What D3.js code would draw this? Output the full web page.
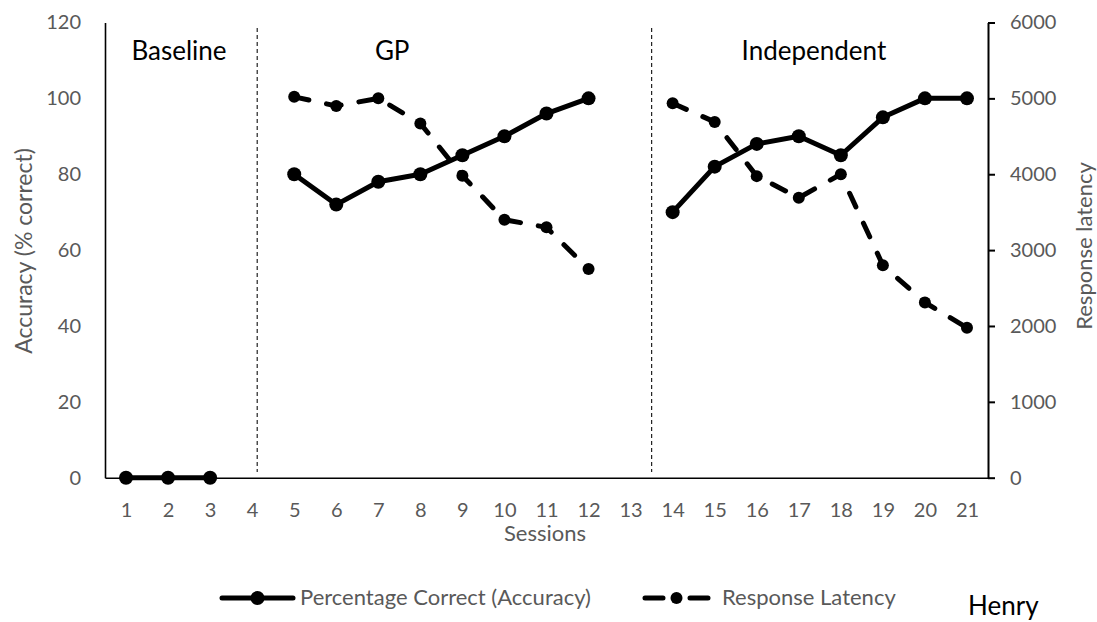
<!DOCTYPE html>
<html>
<head>
<meta charset="utf-8">
<script src="https://cdn.jsdelivr.net/npm/d3@7"></script>
<style>
  html, body { margin: 0; padding: 0; background: #fff; }
  #chart { width: 1097px; height: 622px; }
  text { font-family: Lato, "Open Sans", sans-serif; }
</style>
</head>
<body>
<div id="chart"></div>
<script>
"use strict";

// sessions on the x axis
const sessions = d3.range(1, 22);

// accuracy (% correct), left axis
const accuracySessions = [1, 2, 3, 5, 6, 7, 8, 9, 10, 11, 12, 14, 15, 16, 17, 18, 19, 20, 21];
const accuracy = [0, 0, 0, 80, 72, 78, 80, 85, 90, 96, 100, 70, 82, 88, 90, 85, 95, 100, 100];

// response latency, right axis (two separate runs)
const latencyGpSessions = [5, 6, 7, 8, 9, 10, 11, 12];
const latencyGp = [5020, 4900, 5000, 4670, 3980, 3400, 3300, 2750];
const latencyIndSessions = [14, 15, 16, 17, 18, 19, 20, 21];
const latencyInd = [4935, 4690, 3975, 3690, 4000, 2800, 2310, 1975];

const leftTicks = [0, 20, 40, 60, 80, 100, 120];
const rightTicks = [0, 1000, 2000, 3000, 4000, 5000, 6000];

// phase change lines and phase names
const phaseLines = [4.12, 13.5];
const phaseNames = ["Baseline", "GP", "Independent"];
const phaseCenters = [2.26, 7.33, 17.36];

const seriesNames = ["Percentage Correct (Accuracy)", "Response Latency"];

window.addEventListener("load", draw);

function draw() {
  const w = 1097;
  const h = 622;
  const plot = { left: 105, right: 988, top: 22.5, bottom: 477.7 };
  const grey = "#595959";

  const svg = d3
    .select("#chart")
    .append("svg")
    .attr("width", w)
    .attr("height", h);

  const x = d3
    .scaleLinear()
    .domain([0.5, 21.5])
    .range([plot.left, plot.right]);
  const yLeft = d3
    .scaleLinear()
    .domain([0, 120])
    .range([plot.bottom, plot.top]);
  const yRight = d3
    .scaleLinear()
    .domain([0, 6000])
    .range([plot.bottom, plot.top]);

  // phase change lines
  svg
    .selectAll("line.phase")
    .data(phaseLines)
    .enter()
    .append("line")
    .attr("class", "phase")
    .attr("x1", (d) => x(d))
    .attr("x2", (d) => x(d))
    .attr("y1", 28)
    .attr("y2", 472)
    .attr("stroke", "#222")
    .attr("stroke-width", 1.2)
    .attr("stroke-dasharray", "4,3");

  svg
    .selectAll("text.phase")
    .data(phaseNames)
    .enter()
    .append("text")
    .attr("class", "phase")
    .attr("x", (_, i) => x(phaseCenters[i]))
    .attr("y", 60)
    .attr("text-anchor", "middle")
    .attr("font-size", "26px")
    .attr("fill", "#000")
    .text((d) => d);

  // x axis
  const xAxis = svg
    .append("g")
    .attr("transform", `translate(0,${plot.bottom})`)
    .call(d3.axisBottom(x).tickValues(sessions).tickSize(0).tickPadding(0));
  xAxis.select(".domain").attr("stroke", "#000").attr("stroke-width", 1.6);
  xAxis
    .selectAll("text")
    .attr("font-size", "20px")
    .attr("font-family", "Lato, sans-serif")
    .attr("fill", grey)
    .attr("dy", null)
    .attr("y", 39);

  // left axis: line only, no tick marks
  const leftAxis = svg
    .append("g")
    .attr("transform", `translate(${plot.left},0)`)
    .call(d3.axisLeft(yLeft).tickValues(leftTicks).tickSize(0).tickPadding(24));
  leftAxis.select(".domain").attr("stroke", "#000").attr("stroke-width", 1.6);
  leftAxis
    .selectAll("text")
    .attr("font-size", "20px")
    .attr("font-family", "Lato, sans-serif")
    .attr("fill", grey);

  // right axis with outward ticks
  const rightAxis = svg
    .append("g")
    .attr("transform", `translate(${plot.right},0)`)
    .call(
      d3
        .axisRight(yRight)
        .tickValues(rightTicks)
        .tickFormat(d3.format("d"))
        .tickSize(7)
        .tickSizeOuter(0)
        .tickPadding(15)
    );
  rightAxis.select(".domain").attr("stroke", "#000").attr("stroke-width", 2);
  rightAxis.selectAll("line").attr("stroke", "#000").attr("stroke-width", 2);
  rightAxis
    .selectAll("text")
    .attr("font-size", "20px")
    .attr("font-family", "Lato, sans-serif")
    .attr("fill", grey);

  // axis titles
  svg
    .append("text")
    .attr("transform", "translate(23,251) rotate(-90)")
    .attr("text-anchor", "middle")
    .attr("dominant-baseline", "central")
    .attr("font-size", "23px")
    .attr("fill", grey)
    .text("Accuracy (% correct)");

  svg
    .append("text")
    .attr("transform", "translate(1083,246) rotate(-90)")
    .attr("text-anchor", "middle")
    .attr("dominant-baseline", "central")
    .attr("font-size", "22px")
    .attr("fill", grey)
    .text("Response latency");

  svg
    .append("text")
    .attr("x", 545)
    .attr("y", 541)
    .attr("text-anchor", "middle")
    .attr("font-size", "22px")
    .attr("fill", grey)
    .text("Sessions");

  // accuracy series, split into phases so the gaps stay open
  const accPts = accuracySessions.map((s, i) => ({ s: s, v: accuracy[i] }));
  const accRuns = [
    accPts.filter((d) => d.s < 4),
    accPts.filter((d) => d.s > 4 && d.s < 13.5),
    accPts.filter((d) => d.s > 13.5),
  ];
  const accLine = d3
    .line()
    .x((d) => x(d.s))
    .y((d) => yLeft(d.v));

  const latRuns = [
    latencyGpSessions.map((s, i) => ({ s: s, v: latencyGp[i] })),
    latencyIndSessions.map((s, i) => ({ s: s, v: latencyInd[i] })),
  ];
  const latLine = d3
    .line()
    .x((d) => x(d.s))
    .y((d) => yRight(d.v));

  // latency drawn first, accuracy on top
  svg
    .selectAll("path.lat")
    .data(latRuns)
    .enter()
    .append("path")
    .attr("class", "lat")
    .attr("d", latLine)
    .attr("fill", "none")
    .attr("stroke", "#000")
    .attr("stroke-width", 5)
    .attr("stroke-linecap", "round")
    .attr("stroke-dasharray", "15,18");

  svg
    .selectAll("circle.lat")
    .data(latRuns.flat())
    .enter()
    .append("circle")
    .attr("class", "lat")
    .attr("cx", (d) => x(d.s))
    .attr("cy", (d) => yRight(d.v))
    .attr("r", 6)
    .attr("fill", "#000");

  svg
    .selectAll("path.acc")
    .data(accRuns)
    .enter()
    .append("path")
    .attr("class", "acc")
    .attr("d", accLine)
    .attr("fill", "none")
    .attr("stroke", "#000")
    .attr("stroke-width", 5)
    .attr("stroke-linejoin", "round");

  svg
    .selectAll("circle.acc")
    .data(accPts)
    .enter()
    .append("circle")
    .attr("class", "acc")
    .attr("cx", (d) => x(d.s))
    .attr("cy", (d) => yLeft(d.v))
    .attr("r", 7)
    .attr("fill", "#000");

  drawLegend(svg, grey);

  svg
    .append("text")
    .attr("x", 968)
    .attr("y", 615)
    .attr("font-size", "26px")
    .attr("fill", "#000")
    .text("Henry");
}

function drawLegend(svg, grey) {
  const ly = 598;
  const items = [
    { x0: 222, x1: 293, dash: null, tx: 300 },
    { x0: 645, x1: 708, dash: "18,27,18", tx: 722 },
  ];
  const legend = svg.append("g").attr("id", "legend");

  legend
    .selectAll("line")
    .data(items)
    .enter()
    .append("line")
    .attr("x1", (d) => d.x0)
    .attr("x2", (d) => d.x1)
    .attr("y1", ly)
    .attr("y2", ly)
    .attr("stroke", "#000")
    .attr("stroke-width", 5)
    .attr("stroke-linecap", "round")
    .attr("stroke-dasharray", (d) => d.dash);

  legend
    .selectAll("circle")
    .data(items)
    .enter()
    .append("circle")
    .attr("cx", (d) => (d.x0 + d.x1) / 2)
    .attr("cy", ly)
    .attr("r", (d, i) => (i === 0 ? 7 : 6))
    .attr("fill", "#000");

  legend
    .selectAll("text")
    .data(items)
    .enter()
    .append("text")
    .attr("x", (d) => d.tx)
    .attr("y", ly + 7)
    .attr("font-size", "22px")
    .attr("fill", grey)
    .text((_, i) => seriesNames[i]);
}
</script>
</body>
</html>
